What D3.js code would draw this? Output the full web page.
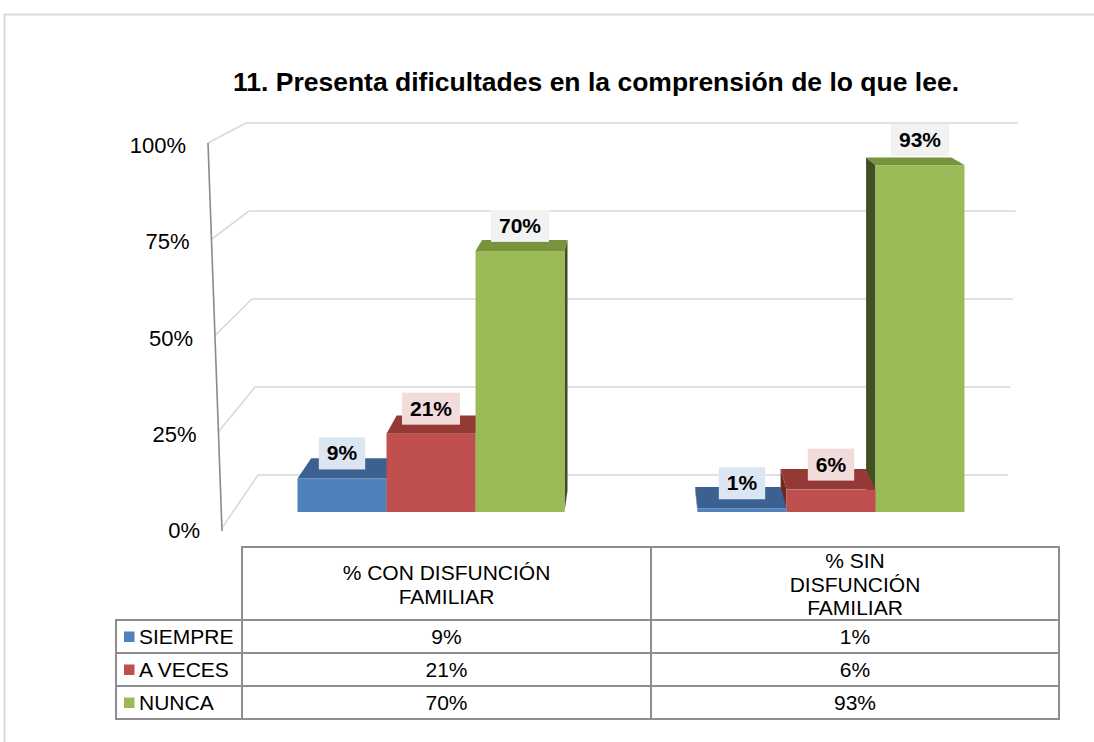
<!DOCTYPE html>
<html>
<head>
<meta charset="utf-8">
<script src="https://cdn.jsdelivr.net/npm/d3@7/dist/d3.min.js"></script>
<style>
  html, body { margin: 0; padding: 0; background: #fff; }
  svg { display: block; }
  text { font-family: "Liberation Sans", Arial, Helvetica, sans-serif; }
</style>
</head>
<body>
<svg id="chart" width="1094" height="742"></svg>
<script>
// ---------------- data ----------------
const title = "11. Presenta dificultades en la comprensión de lo que lee.";
const categories = ["% CON DISFUNCIÓN FAMILIAR", "% SIN DISFUNCIÓN FAMILIAR"];
const categoryLines = [["% CON DISFUNCIÓN", "FAMILIAR"], ["% SIN", "DISFUNCIÓN", "FAMILIAR"]];
const seriesNames = ["SIEMPRE", "A VECES", "NUNCA"];
const siempre = [0.09, 0.01];
const aVeces  = [0.21, 0.06];
const nunca   = [0.70, 0.93];
const yTicks = [0, 0.25, 0.5, 0.75, 1];
const seriesValues = [siempre, aVeces, nunca];

// ---------------- styles ----------------
const colors = {
  front: ["#4F81BD", "#C0504D", "#9BBB59"],
  top:   ["#3C6090", "#933936", "#77933C"],
  side:  ["#2E4A6E", "#6E2826", "#414F23"],
  label: ["#DCE6F2", "#F2DCDB", "#F2F2F2"]
};
const fmt = d3.format(".0%");

const svg = d3.select("#chart");

// outer frame
svg.append("path")
  .attr("d", "M4.5,760 V14.5 H1110")
  .attr("fill", "none").attr("stroke", "#D9D9D9").attr("stroke-width", 2);

// title
svg.append("text")
  .attr("x", 596).attr("y", 91)
  .attr("text-anchor", "middle")
  .attr("font-weight", "bold").attr("font-size", 26.5)
  .attr("fill", "#000")
  .text(title);

// ---------------- scales ----------------
const yFront = d3.scaleLinear().domain([0, 1]).range([512, 139]);
const yBack  = d3.scaleLinear().domain([0, 1]).range([475, 123]);
const xBackL = d3.scaleLinear().domain([0, 1]).range([258, 246]);
const xBackR = d3.scaleLinear().domain([0, 1]).range([1008, 1018]);
const xEdge  = d3.scaleLinear().domain([0, 1]).range([222, 208]);
const yEdge  = d3.scaleLinear().domain([0, 1]).range([528, 143]);

const xCat = d3.scaleBand().domain(categories).range([231, 1031]).padding(0);
const groupW = 267;
const xSer = d3.scaleBand().domain(seriesNames).range([0, groupW]).padding(0);

// perspective
const VX = 640, VY = -23, depth = 0.04;
const P = (x, y, d) => [x + (VX - x) * d, y + (VY - y) * d];

// ---------------- walls & gridlines ----------------
const grid = svg.append("g");
yTicks.forEach(t => {
  grid.append("polyline")
    .attr("points", [[xEdge(t), yEdge(t)], [xBackL(t), yBack(t)], [xBackR(t), yBack(t)]].map(p => p.join(",")).join(" "))
    .attr("fill", "none").attr("stroke", "#D9D9D9").attr("stroke-width", 1.6);
});
// axis edge
svg.append("line")
  .attr("x1", xEdge(1)).attr("y1", yEdge(1))
  .attr("x2", xEdge(0)).attr("y2", yEdge(0) + 3)
  .attr("stroke", "#8A8A8A").attr("stroke-width", 1.6);

// tick labels
svg.append("g").selectAll("text").data(yTicks).join("text")
  .attr("x", d => xEdge(d) - 22)
  .attr("y", d => yEdge(d) + 2.5)
  .attr("dy", "0.35em")
  .attr("text-anchor", "end")
  .attr("font-size", 22)
  .attr("fill", "#000")
  .text(d => fmt(d));

// ---------------- bars ----------------
const bars = [];
categories.forEach((c, i) => {
  seriesNames.forEach((s, j) => {
    const x0 = xCat(c) + (xCat.bandwidth() - groupW) / 2 + xSer(s);
    const x1 = x0 + xSer.bandwidth();
    bars.push({ i, j, x0, x1, v: seriesValues[j][i], yT: yFront(seriesValues[j][i]), yB: yFront(0) });
  });
});
bars.sort((a, b) => Math.abs((b.x0 + b.x1) / 2 - VX) - Math.abs((a.x0 + a.x1) / 2 - VX));

const gBars = svg.append("g");
const pts = arr => arr.map(p => p.join(",")).join(" ");
bars.forEach(b => {
  const g = gBars.append("g");
  // side face
  if (b.x1 < VX) {
    g.append("polygon").attr("points", pts([[b.x1, b.yT], [b.x1, b.yB], P(b.x1, b.yB, depth), P(b.x1, b.yT, depth)]))
      .attr("fill", colors.side[b.j]);
  } else if (b.x0 > VX) {
    g.append("polygon").attr("points", pts([[b.x0, b.yT], [b.x0, b.yB], P(b.x0, b.yB, depth), P(b.x0, b.yT, depth)]))
      .attr("fill", colors.side[b.j]);
  }
  // top face
  g.append("polygon").attr("points", pts([[b.x0, b.yT], [b.x1, b.yT], P(b.x1, b.yT, depth), P(b.x0, b.yT, depth)]))
    .attr("fill", colors.top[b.j]);
  // front face
  g.append("rect").attr("x", b.x0).attr("y", b.yT).attr("width", b.x1 - b.x0).attr("height", b.yB - b.yT)
    .attr("fill", colors.front[b.j]);
});

// data labels
const gLab = svg.append("g");
bars.forEach(b => {
  const cx = (b.x0 + b.x1) / 2;
  const bottom = b.yT - 9;
  const t = gLab.append("text")
    .attr("x", cx).attr("y", bottom - 9)
    .attr("text-anchor", "middle")
    .attr("font-weight", "bold").attr("font-size", 21)
    .attr("fill", "#000")
    .text(fmt(b.v));
  const w = t.node().getComputedTextLength() + 16;
  gLab.insert("rect", "text")
    .attr("x", cx - w / 2).attr("y", bottom - 32)
    .attr("width", w).attr("height", 32)
    .attr("fill", colors.label[b.j]);
});
// bring texts above their boxes
gLab.selectAll("text").raise();

// ---------------- data table ----------------
const tbl = svg.append("g");
const colX = [116, 242, 651, 1059];
const rowY = [547, 620, 653, 686, 719];
const lineColor = "#8E8E8E";
const lw = 2;
// header box
tbl.append("rect").attr("x", colX[1]).attr("y", rowY[0]).attr("width", colX[3] - colX[1]).attr("height", rowY[1] - rowY[0])
  .attr("fill", "none").attr("stroke", lineColor).attr("stroke-width", lw);
// body box
tbl.append("rect").attr("x", colX[0]).attr("y", rowY[1]).attr("width", colX[3] - colX[0]).attr("height", rowY[4] - rowY[1])
  .attr("fill", "none").attr("stroke", lineColor).attr("stroke-width", lw);
// horizontal rules
[rowY[2], rowY[3]].forEach(y => tbl.append("line").attr("x1", colX[0]).attr("x2", colX[3]).attr("y1", y).attr("y2", y)
  .attr("stroke", lineColor).attr("stroke-width", lw));
// vertical rules
tbl.append("line").attr("x1", colX[1]).attr("x2", colX[1]).attr("y1", rowY[0]).attr("y2", rowY[4]).attr("stroke", lineColor).attr("stroke-width", lw);
tbl.append("line").attr("x1", colX[2]).attr("x2", colX[2]).attr("y1", rowY[0]).attr("y2", rowY[4]).attr("stroke", lineColor).attr("stroke-width", lw);

// header texts
categoryLines.forEach((lines, i) => {
  const cx = (colX[i + 1] + colX[i + 2]) / 2;
  const cy = (rowY[0] + rowY[1]) / 2 + 1;
  const lh = 23.5;
  const t = tbl.append("text").attr("text-anchor", "middle").attr("font-size", 21).attr("fill", "#000");
  lines.forEach((ln, k) => {
    t.append("tspan").attr("x", cx).attr("y", cy + (k - (lines.length - 1) / 2) * lh).attr("dy", "0.35em").text(ln);
  });
});

// body rows
seriesNames.forEach((s, j) => {
  const cy = (rowY[j + 1] + rowY[j + 2]) / 2;
  tbl.append("rect").attr("x", 124).attr("y", cy - 5).attr("width", 10.5).attr("height", 10.5).attr("fill", colors.front[j]);
  tbl.append("text").attr("x", 139).attr("y", cy).attr("dy", "0.35em").attr("font-size", 21).attr("fill", "#000").text(s);
  categories.forEach((c, i) => {
    tbl.append("text").attr("x", (colX[i + 1] + colX[i + 2]) / 2).attr("y", cy).attr("dy", "0.35em")
      .attr("text-anchor", "middle").attr("font-size", 21).attr("fill", "#000")
      .text(fmt(seriesValues[j][i]));
  });
});
</script>
</body>
</html>
